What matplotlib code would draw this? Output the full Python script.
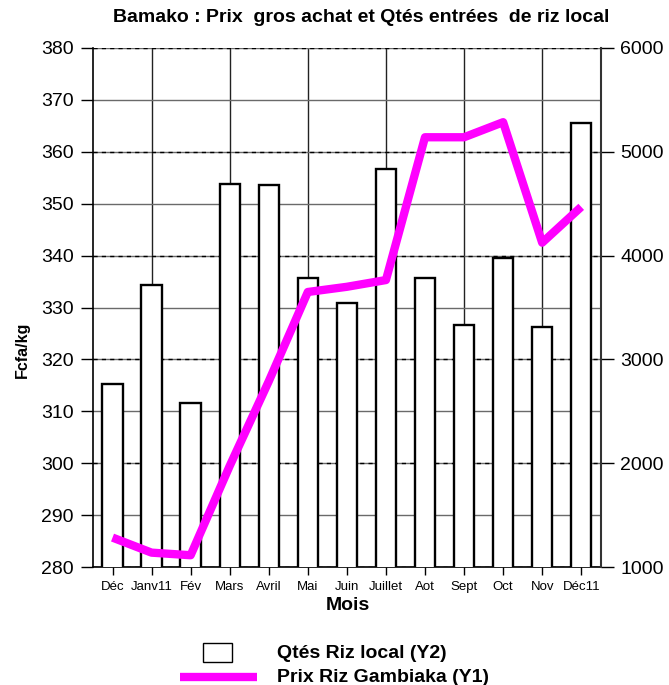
import matplotlib.pyplot as plt
from matplotlib.patches import Rectangle
from matplotlib.lines import Line2D

# ---------------------------------------------------------------------------
# Data
# ---------------------------------------------------------------------------
mois = ["Déc", "Janv11", "Fév", "Mars", "Avril", "Mai", "Juin",
        "Juillet", "Aot", "Sept", "Oct", "Nov", "Déc11"]

# Qtés riz local (right axis, Y2)
qtes_riz_local = [2765, 3715, 2585, 4690, 4680, 3780, 3540,
                  4835, 3780, 3330, 3980, 3310, 5275]

# Prix riz Gambiaka, Fcfa/kg (left axis, Y1)
prix_gambiaka = [285.7, 282.8, 282.3, 299.5, 315.8, 333.0, 334.0,
                 335.3, 362.8, 362.8, 365.7, 342.5, 349.4]

y1_ticks = list(range(280, 381, 10))
y2_ticks = list(range(1000, 6001, 1000))

MAGENTA = "#FF00FF"

plt.rcParams["font.family"] = ["Liberation Sans", "DejaVu Sans"]

fig = plt.figure(figsize=(6.69, 6.85), dpi=100)

# --- base axes: Y1 scale, solid grid, vertical lines every other month ---
ax1 = fig.add_axes([0.139, 0.172, 0.759, 0.758])
x = list(range(len(mois)))
ax1.set_xlim(-0.5, len(mois) - 0.5)
ax1.set_ylim(y1_ticks[0], y1_ticks[-1])
ax1.set_yticks(y1_ticks)
ax1.set_xticks(x)
ax1.set_xticklabels(mois, fontsize=9.5)
ax1.xaxis.remove_overlapping_locs = False
ax1.set_xticks(x[1::2], minor=True)
ax1.grid(axis="y", color="#6a6a6a", lw=1)
ax1.grid(axis="x", which="minor", color="#222222", lw=1)
ax1.tick_params(axis="x", which="minor", length=0)
ax1.tick_params(axis="x", which="major", length=6, width=1, pad=4)
ax1.tick_params(axis="y", length=9, width=1, labelsize=14, pad=5)
ax1.spines["top"].set_visible(False)
ax1.spines["right"].set_visible(False)
for s in ("left", "bottom"):
    ax1.spines[s].set_linewidth(1.2)

# --- twin axes: Y2 scale, bars + dashed grid under the bars ---
ax2 = ax1.twinx()
ax2.set_ylim(y2_ticks[0], y2_ticks[-1])
ax2.set_yticks(y2_ticks)
ax2.set_axisbelow(True)
ax2.grid(axis="y", color="black", lw=1, ls=(0, (3, 3)))
ax2.bar(x, qtes_riz_local, width=0.52, color="white",
        edgecolor="black", lw=1.7, zorder=2)
ax2.tick_params(axis="y", length=9, width=1, labelsize=14, pad=5)
ax2.spines["top"].set_visible(False)
ax2.spines["left"].set_visible(False)
ax2.spines["bottom"].set_visible(False)
ax2.spines["right"].set_linewidth(1.5)
ax2.spines["right"].set_color("#333333")

# --- top axes: price line on the Y1 scale, drawn above the bars ---
ax3 = fig.add_axes(ax1.get_position(), sharex=ax1, sharey=ax1)
ax3.set_axis_off()
ax3.patch.set_visible(False)
ax3.plot(x, prix_gambiaka, color=MAGENTA, lw=6,
         solid_capstyle="butt", solid_joinstyle="round", clip_on=False)

# --- texts ---
fig.text(361 / 669, 1 - 18 / 685,
         "Bamako : Prix  gros achat et Qtés entrées  de riz local",
         ha="center", va="center", fontsize=14, fontweight="bold")
fig.text(348 / 669, 1 - 605 / 685, "Mois", ha="center", va="center",
         fontsize=14, fontweight="bold")
fig.text(22 / 669, 1 - 350 / 685, "Fcfa/kg", ha="center", va="center",
         rotation=90, fontsize=11.5, fontweight="bold")

# --- legend (drawn by hand, below the plot) ---
fig.add_artist(Rectangle((203 / 669, 1 - 662 / 685), 29 / 669, 19 / 685,
                         transform=fig.transFigure, facecolor="white",
                         edgecolor="black", lw=1))
fig.add_artist(Line2D([180 / 669, 257 / 669], [1 - 677 / 685] * 2,
                      transform=fig.transFigure, color=MAGENTA, lw=6,
                      solid_capstyle="butt"))
fig.text(277 / 669, 1 - 653 / 685, "Qtés Riz local (Y2)", ha="left",
         va="center", fontsize=14, fontweight="bold")
fig.text(277 / 669, 1 - 677 / 685, "Prix Riz Gambiaka (Y1)", ha="left",
         va="center", fontsize=14, fontweight="bold")

fig.savefig("out.png", dpi=100)
